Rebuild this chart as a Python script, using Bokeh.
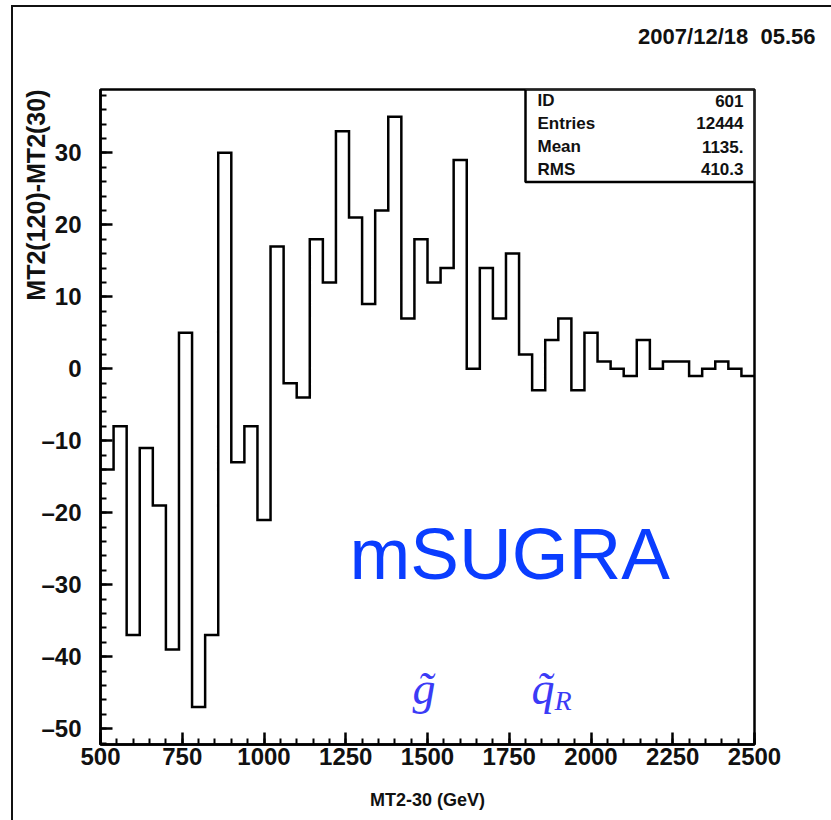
import numpy as np
from bokeh.plotting import figure
from bokeh.models import (Range1d, SingleIntervalTicker, Label, BoxAnnotation, Title,
                          CustomJSTickFormatter)
from bokeh.embed import file_html
from bokeh.resources import INLINE

# ---------------- data ----------------
bin_start = 500
bin_width = 40
diff_values = [-14, -8, -37, -11, -19, -39, 5, -47, -37, 30,
               -13, -8, -21, 17, -2, -4, 18, 12, 33, 21,
               9, 22, 35, 7, 18, 12, 14, 29, 0, 14,
               7, 16, 2, -3, 4, 7, -3, 5, 1, 0,
               -1, 4, 0, 1, 1, -1, 0, 1, 0, -1]
stats_names = ["ID", "Entries", "Mean", "RMS"]
stats_values = ["601", "12444", "1135.", "410.3"]
date_text = "2007/12/18\u00a0\u00a005.56"
x_title = "MT2-30 (GeV)"
y_title = "MT2(120)-MT2(30)"
model_text = "mSUGRA"

# ---------------- geometry ----------------
W, H = 831, 820
FL, FR, FT, FB = 100, 754, 89, 744
X0, X1 = 500, 2500
Y0, Y1 = -52.2, 38.8


def px2x(px):
    return X0 + (px - FL) * (X1 - X0) / (FR - FL)


def px2y(py):
    return Y1 - (py - FT) * (Y1 - Y0) / (FB - FT)


p = figure(width=W, height=H, x_range=Range1d(X0, X1), y_range=Range1d(Y0, Y1),
           output_backend="svg", toolbar_location=None,
           min_border_left=FL, min_border_right=W - FR,
           min_border_top=FT, min_border_bottom=H - FB)
p.xgrid.visible = False
p.ygrid.visible = False
p.background_fill_color = "white"
p.border_fill_color = None
p.styles = {
    "background": "linear-gradient(#111, #111) 11px 5px / 2px 100% no-repeat, "
                  "linear-gradient(#111, #111) 11px 5px / 100% 2px no-repeat, white"
}
p.outline_line_color = "black"
p.outline_line_width = 2.5

# axes
p.xaxis.ticker = SingleIntervalTicker(interval=250, num_minor_ticks=5)
p.yaxis.ticker = SingleIntervalTicker(interval=10, num_minor_ticks=5)
p.yaxis.formatter = CustomJSTickFormatter(
    code="return tick < 0 ? '\u2013' + Math.abs(tick) : '' + tick;")
for ax in (p.xaxis, p.yaxis):
    ax.axis_line_width = 2.5
    ax.axis_line_color = "black"
    ax.major_tick_line_width = 2.5
    ax.minor_tick_line_width = 2
    ax.major_tick_in = 12
    ax.major_tick_out = 0
    ax.minor_tick_in = 6
    ax.minor_tick_out = 0
    ax.major_label_text_font = "Liberation Sans"
    ax.major_label_text_font_style = "bold"
    ax.major_label_text_font_size = "24px"
    ax.major_label_text_color = "#111111"
p.yaxis.major_label_standoff = 19
p.xaxis.major_label_standoff = 3
p.xaxis.axis_label = x_title
p.xaxis.axis_label_text_font = "Liberation Sans"
p.xaxis.axis_label_text_font_style = "bold"
p.xaxis.axis_label_text_font_size = "18px"
p.xaxis.axis_label_standoff = 22
p.xaxis.axis_label_text_color = "#111111"

# blank spacer title next to the frame, then the date title further out
p.add_layout(Title(text="\u00a0", text_font_size="10px", standoff=28), "above")
p.add_layout(Title(text=date_text, align="right", offset=-61, text_font="Liberation Sans",
                   text_font_style="bold", text_font_size="22px",
                   text_color="#111111", standoff=0), "above")

# y title (top-aligned, as in the original)
p.add_layout(Title(text=y_title, align="right", text_font="Liberation Sans",
                   text_font_style="bold", text_font_size="25px",
                   text_color="#111111", standoff=-22), "left")

# histogram outline
edges = bin_start + bin_width * np.arange(len(diff_values) + 1)
xs = np.repeat(edges, 2)[1:-1]
ys = np.repeat(np.array(diff_values, dtype=float), 2)
p.line(xs, ys, line_color="black", line_width=2.5, line_join="miter")

# stats box
p.add_layout(BoxAnnotation(left=px2x(525), right=X1, top=Y1, bottom=px2y(181.5),
                           fill_color="white", fill_alpha=1.0,
                           line_color="black", line_alpha=1.0, line_width=2.5))
rows_py = [100, 122.5, 146, 168.5]
for name, val, py in zip(stats_names, stats_values, rows_py):
    p.add_layout(Label(x=px2x(537), y=px2y(py), text=name, text_font="Liberation Sans",
                       text_font_style="bold", text_font_size="17px",
                       text_baseline="middle", text_align="left", text_color="#111111"))
    p.add_layout(Label(x=px2x(743), y=px2y(py), text=val, text_font="Liberation Sans",
                       text_font_style="bold", text_font_size="17px",
                       text_baseline="middle", text_align="right", text_color="#111111"))

# annotations
p.add_layout(Label(x=px2x(349), y=px2y(553), text=model_text, text_font="Liberation Sans",
                   text_font_size="73px", text_baseline="alphabetic", text_align="left",
                   text_color="#0a3dff"))
p.add_layout(Label(x=px2x(412), y=px2y(688), text="g\u0303", text_font="Liberation Serif",
                   text_font_style="italic", text_font_size="46px",
                   text_baseline="alphabetic", text_align="left", text_color="#3b3bf6"))
p.add_layout(Label(x=px2x(531), y=px2y(688), text="q\u0303", text_font="Liberation Serif",
                   text_font_style="italic", text_font_size="46px",
                   text_baseline="alphabetic", text_align="left", text_color="#3b3bf6"))
p.add_layout(Label(x=px2x(554), y=px2y(700), text="R", text_font="Liberation Serif",
                   text_font_style="italic", text_font_size="28px",
                   text_baseline="alphabetic", text_align="left", text_color="#3b3bf6"))

open("out.html", "w").write(file_html(p, INLINE))
